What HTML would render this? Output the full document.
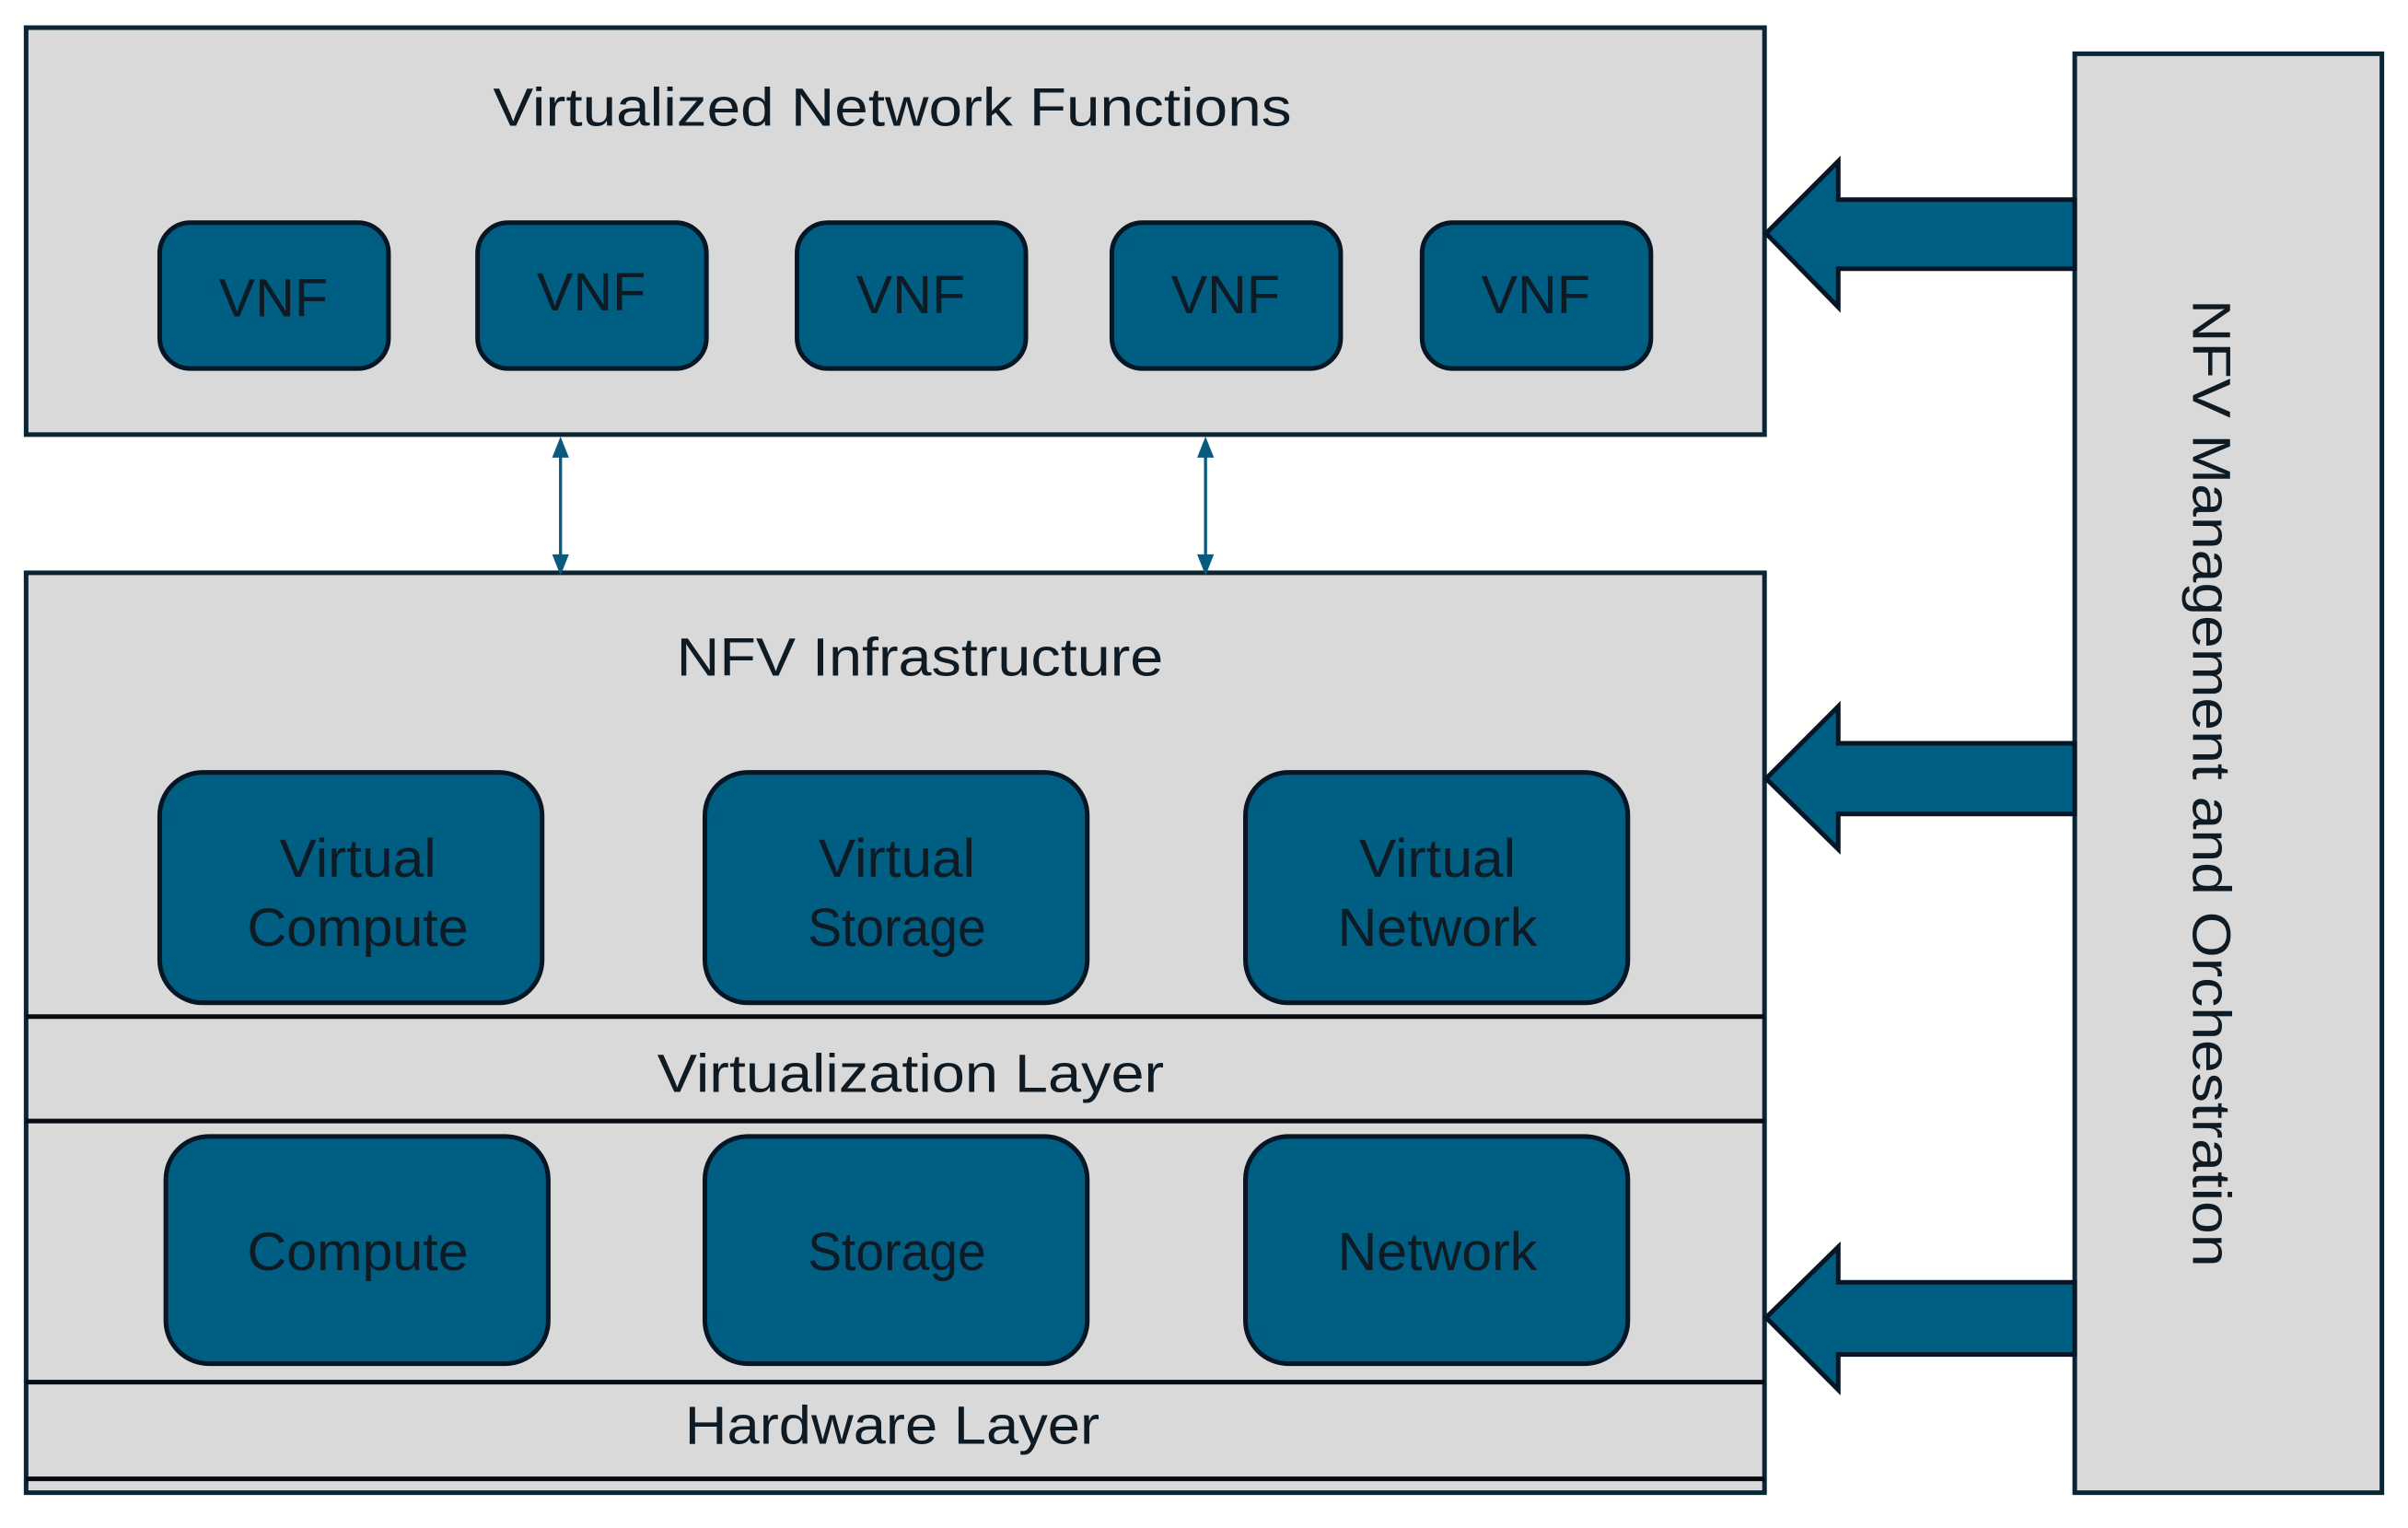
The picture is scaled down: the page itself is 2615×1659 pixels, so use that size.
<!DOCTYPE html>
<html><head><meta charset="utf-8"><style>
html,body{margin:0;padding:0;background:#fff;}
svg{display:block;}
text{font-family:"Liberation Sans",sans-serif;fill:#0e1b24;}
</style></head><body>
<svg width="2615" height="1659" viewBox="0 0 1568 995" preserveAspectRatio="none" xmlns="http://www.w3.org/2000/svg">
<g stroke="#0c2533" stroke-width="3">
<rect x="17" y="18" width="1132" height="265" fill="#d9d9d9"/>
<rect x="17" y="373" width="1132" height="599" fill="#d9d9d9"/>
<rect x="1351" y="35" width="200" height="937" fill="#d9d9d9"/>
</g>
<g stroke="#050b10" stroke-width="3">
<line x1="17" y1="662" x2="1149" y2="662"/>
<line x1="17" y1="730" x2="1149" y2="730"/>
<line x1="17" y1="900" x2="1149" y2="900"/>
<line x1="17" y1="963" x2="1149" y2="963"/>
</g>
<g fill="#005e83" stroke="#061624" stroke-width="3">
<rect x="104" y="145" width="149" height="95" rx="20"/>
<rect x="311" y="145" width="149" height="95" rx="20"/>
<rect x="519" y="145" width="149" height="95" rx="20"/>
<rect x="724" y="145" width="149" height="95" rx="20"/>
<rect x="926" y="145" width="149" height="95" rx="20"/>
<rect x="104" y="503" width="249" height="150" rx="28"/>
<rect x="459" y="503" width="249" height="150" rx="28"/>
<rect x="811" y="503" width="249" height="150" rx="28"/>
<rect x="108" y="740" width="249" height="148" rx="28"/>
<rect x="459" y="740" width="249" height="148" rx="28"/>
<rect x="811" y="740" width="249" height="148" rx="28"/>
<path d="M1150 152 L1197 105 L1197 130 L1351 130 L1351 175 L1197 175 L1197 200 Z"/>
<path d="M1150 507 L1197 460 L1197 484 L1351 484 L1351 530 L1197 530 L1197 553 Z"/>
<path d="M1150 858 L1197 812 L1197 835 L1351 835 L1351 882 L1197 882 L1197 905 Z"/>
</g>
<g stroke="#0a5a7e" stroke-width="2" fill="#0a5a7e">
<line x1="365" y1="293" x2="365" y2="366"/>
<path d="M365 287 L361 297 L369 297 Z"/><path d="M365 372 L361 362 L369 362 Z"/>
<line x1="785" y1="293" x2="785" y2="366"/>
<path d="M785 287 L781 297 L789 297 Z"/><path d="M785 372 L781 362 L789 362 Z"/>
</g>
<g text-anchor="middle" font-size="35">
<text x="581" y="82" textLength="520" lengthAdjust="spacingAndGlyphs">Virtualized Network Functions</text>
<text x="178" y="206" textLength="71" lengthAdjust="spacingAndGlyphs">VNF</text>
<text x="385" y="202" textLength="71" lengthAdjust="spacingAndGlyphs">VNF</text>
<text x="593" y="204" textLength="71" lengthAdjust="spacingAndGlyphs">VNF</text>
<text x="798" y="204" textLength="71" lengthAdjust="spacingAndGlyphs">VNF</text>
<text x="1000" y="204" textLength="71" lengthAdjust="spacingAndGlyphs">VNF</text>
<text x="599" y="440" textLength="317" lengthAdjust="spacingAndGlyphs">NFV Infrastructure</text>
<text x="233" y="571" textLength="102" lengthAdjust="spacingAndGlyphs">Virtual</text><text x="233" y="616" textLength="144" lengthAdjust="spacingAndGlyphs">Compute</text>
<text x="584" y="571" textLength="102" lengthAdjust="spacingAndGlyphs">Virtual</text><text x="584" y="616" textLength="116" lengthAdjust="spacingAndGlyphs">Storage</text>
<text x="936" y="571" textLength="102" lengthAdjust="spacingAndGlyphs">Virtual</text><text x="936" y="616" textLength="130" lengthAdjust="spacingAndGlyphs">Network</text>
<text x="593" y="711" textLength="330" lengthAdjust="spacingAndGlyphs">Virtualization Layer</text>
<text x="233" y="827" textLength="144" lengthAdjust="spacingAndGlyphs">Compute</text>
<text x="584" y="827" textLength="116" lengthAdjust="spacingAndGlyphs">Storage</text>
<text x="936" y="827" textLength="130" lengthAdjust="spacingAndGlyphs">Network</text>
<text x="581" y="940" textLength="270" lengthAdjust="spacingAndGlyphs">Hardware Layer</text>
<text x="0" y="0" transform="translate(1428 510) rotate(90)" textLength="630" lengthAdjust="spacingAndGlyphs">NFV Management and Orchestration</text>
</g>
</svg>
</body></html>
